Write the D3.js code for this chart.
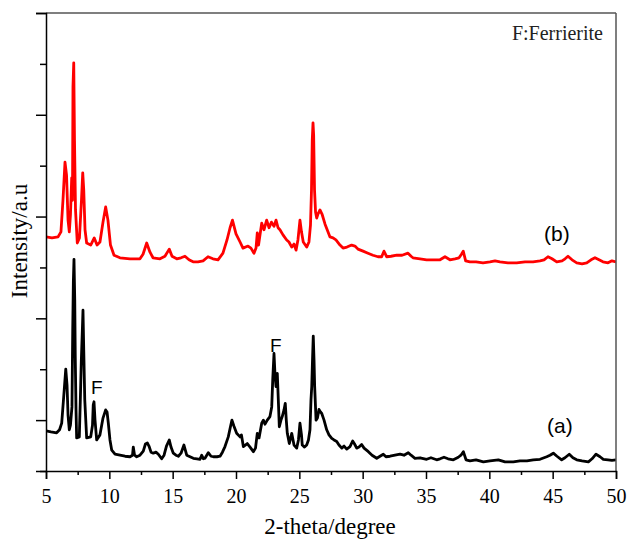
<!DOCTYPE html>
<html>
<head>
<meta charset="utf-8">
<script src="https://cdn.jsdelivr.net/npm/d3@7"></script>
<style>
  body { margin: 0; background: #fff; }
  svg { display: block; }
  .axis path, .axis line { stroke: #000; stroke-width: 1.5; }
  .axis text { font-family: "Liberation Serif", "Times New Roman", serif; font-size: 20px; fill: #000; }
</style>
</head>
<body>
<div id="chart"></div>
<script>
// x ticks (2-theta, degree)
const xTicks = [5, 10, 15, 20, 25, 30, 35, 40, 45, 50];
const xMinor = [7.5, 12.5, 17.5, 22.5, 27.5, 32.5, 37.5, 42.5, 47.5];
// y ticks (no labels in the figure)
const yMajor = [500, 1500, 2500, 3500, 4500];
const yMinor = [0, 1000, 2000, 3000, 4000];

// sample (b), red trace: [2theta, intensity]
const seriesB = [
  [5.00, 2300], [5.47, 2290], [5.95, 2300], [6.18, 2350], [6.34, 2660], [6.50, 3035],
  [6.62, 2910], [6.74, 2465], [6.84, 2350], [6.93, 2515], [7.03, 2880], [7.09, 2660],
  [7.13, 3775], [7.19, 4010], [7.25, 3250], [7.33, 2565], [7.47, 2240], [7.64, 2290],
  [7.80, 2660], [7.90, 2930], [7.98, 2760], [8.08, 2370], [8.21, 2240], [8.53, 2220],
  [8.81, 2290], [9.03, 2220], [9.26, 2250], [9.50, 2445], [9.71, 2595], [9.89, 2465],
  [10.09, 2220], [10.37, 2120], [10.84, 2095], [11.63, 2085], [12.42, 2085], [12.66, 2130],
  [12.95, 2240], [13.21, 2150], [13.45, 2095], [14.00, 2085], [14.39, 2110], [14.73, 2180],
  [14.95, 2110], [15.32, 2085], [15.66, 2095], [15.97, 2110], [16.29, 2075], [16.61, 2055],
  [17.00, 2055], [17.40, 2065], [17.79, 2105], [18.18, 2085], [18.58, 2075], [18.97, 2140],
  [19.29, 2270], [19.53, 2390], [19.72, 2465], [20.00, 2330], [20.32, 2250], [20.55, 2190],
  [20.95, 2210], [21.18, 2190], [21.42, 2140], [21.58, 2190], [21.68, 2340], [21.78, 2220],
  [22.03, 2435], [22.21, 2370], [22.42, 2465], [22.61, 2390], [22.80, 2445], [23.00, 2405],
  [23.16, 2465], [23.32, 2390], [23.47, 2370], [23.71, 2320], [24.00, 2270], [24.18, 2250],
  [24.40, 2200], [24.58, 2230], [24.74, 2170], [24.89, 2270], [25.05, 2465], [25.17, 2350],
  [25.31, 2250], [25.58, 2200], [25.76, 2250], [25.88, 2415], [25.96, 2760], [26.02, 3250],
  [26.08, 3420], [26.13, 3300], [26.20, 2760], [26.28, 2545], [26.37, 2485], [26.47, 2525],
  [26.63, 2565], [26.79, 2525], [27.03, 2425], [27.26, 2350], [27.42, 2300], [27.66, 2290],
  [27.89, 2270], [28.21, 2220], [28.45, 2190], [28.76, 2200], [29.13, 2220], [29.39, 2210],
  [29.63, 2180], [30.03, 2160], [30.42, 2140], [30.81, 2120], [31.21, 2105], [31.50, 2105],
  [31.68, 2160], [31.90, 2105], [32.24, 2110], [32.69, 2120], [33.11, 2120], [33.58, 2140],
  [33.82, 2110], [33.97, 2095], [34.53, 2085], [35.05, 2075], [35.55, 2075], [36.11, 2075],
  [36.50, 2105], [36.89, 2075], [37.29, 2085], [37.61, 2095], [37.80, 2130], [37.94, 2160],
  [38.13, 2065], [38.47, 2055], [38.95, 2055], [39.50, 2045], [40.05, 2055], [40.45, 2065],
  [40.84, 2055], [41.47, 2045], [42.16, 2045], [42.82, 2055], [43.45, 2055], [44.00, 2065],
  [44.32, 2075], [44.63, 2105], [44.95, 2085], [45.32, 2055], [45.74, 2065], [45.98, 2085],
  [46.21, 2110], [46.53, 2075], [46.90, 2045], [47.32, 2035], [47.69, 2045], [48.03, 2075],
  [48.34, 2095], [48.66, 2075], [48.97, 2055], [49.37, 2045], [49.68, 2065], [50.00, 2055]
];

// sample (a), black trace
const seriesA = [
  [5.00, 395], [5.39, 385], [5.84, 375], [6.07, 405], [6.24, 470], [6.38, 700],
  [6.56, 1000], [6.66, 845], [6.74, 550], [6.84, 405], [6.93, 450], [7.05, 630],
  [7.11, 1385], [7.16, 1860], [7.21, 2080], [7.27, 1680], [7.31, 1125], [7.37, 600],
  [7.42, 325], [7.63, 335], [7.71, 700], [7.79, 1090], [7.87, 1385], [7.92, 1580],
  [7.98, 1190], [8.06, 700], [8.21, 325], [8.53, 335], [8.67, 450], [8.73, 650],
  [8.79, 680], [8.87, 500], [9.00, 305], [9.26, 355], [9.50, 520], [9.71, 600],
  [9.82, 580], [9.92, 470], [10.05, 305], [10.19, 205], [10.45, 165], [10.84, 155],
  [11.24, 145], [11.63, 140], [11.83, 155], [11.89, 235], [11.99, 155], [12.16, 140],
  [12.42, 155], [12.68, 195], [12.85, 265], [13.00, 275], [13.13, 245], [13.29, 185],
  [13.47, 175], [13.68, 185], [13.87, 165], [14.13, 120], [14.32, 155], [14.51, 245],
  [14.73, 305], [14.87, 235], [15.05, 175], [15.26, 155], [15.45, 145], [15.66, 175],
  [15.89, 255], [16.11, 155], [16.37, 140], [16.63, 125], [16.92, 120], [17.16, 115],
  [17.29, 155], [17.43, 120], [17.55, 125], [17.81, 180], [18.03, 145], [18.21, 140],
  [18.50, 140], [18.74, 145], [18.93, 185], [19.13, 240], [19.39, 335], [19.57, 440],
  [19.68, 500], [19.84, 440], [20.05, 370], [20.32, 335], [20.43, 355], [20.58, 240],
  [20.89, 270], [21.11, 235], [21.37, 190], [21.54, 225], [21.68, 370], [21.82, 325],
  [22.03, 470], [22.16, 500], [22.29, 460], [22.47, 500], [22.68, 535], [22.82, 630],
  [22.90, 895], [23.00, 1155], [23.08, 945], [23.16, 830], [23.26, 960], [23.34, 700],
  [23.42, 435], [23.55, 500], [23.65, 535], [23.79, 600], [23.89, 665], [23.97, 500],
  [24.05, 370], [24.21, 270], [24.40, 370], [24.58, 255], [24.79, 225], [24.93, 305],
  [25.05, 470], [25.17, 355], [25.23, 255], [25.41, 235], [25.58, 255], [25.72, 305],
  [25.84, 405], [25.92, 700], [25.98, 830], [26.04, 1090], [26.10, 1325], [26.16, 1090],
  [26.21, 830], [26.32, 500], [26.43, 520], [26.55, 605], [26.67, 580], [26.77, 565],
  [26.95, 500], [27.16, 405], [27.34, 355], [27.56, 320], [27.74, 305], [27.95, 290],
  [28.13, 255], [28.35, 225], [28.53, 245], [28.74, 215], [29.00, 240], [29.21, 295],
  [29.36, 265], [29.53, 225], [29.71, 235], [29.92, 260], [30.11, 225], [30.45, 190],
  [30.74, 155], [31.11, 125], [31.37, 145], [31.63, 165], [31.84, 140], [32.16, 145],
  [32.55, 155], [32.95, 165], [33.26, 155], [33.60, 180], [33.82, 155], [34.13, 125],
  [34.53, 130], [35.05, 115], [35.39, 130], [35.84, 110], [36.11, 120], [36.42, 135],
  [36.74, 120], [37.16, 110], [37.55, 135], [37.76, 155], [37.95, 190], [38.16, 110],
  [38.47, 100], [38.95, 110], [39.53, 90], [40.05, 100], [40.71, 110], [41.24, 90],
  [41.89, 90], [42.42, 100], [42.97, 100], [43.47, 110], [44.00, 115], [44.53, 140],
  [44.79, 155], [45.05, 175], [45.34, 145], [45.71, 110], [45.97, 130], [46.31, 165],
  [46.60, 130], [46.90, 110], [47.32, 100], [47.82, 90], [48.11, 120], [48.42, 165],
  [48.74, 140], [49.00, 115], [49.37, 110], [49.68, 105], [50.00, 110]
];

const width = 627;
const height = 539;
const margin = { top: 13, right: 11, bottom: 68, left: 46 };
const plotW = width - margin.left - margin.right;
const plotH = height - margin.top - margin.bottom;

const svg = d3.select('#chart')
  .append('svg')
  .attr('width', width)
  .attr('height', height);

const xScale = d3.scaleLinear().domain([5, 50]).range([margin.left, margin.left + plotW]);
const yScale = d3.scaleLinear().domain([0, 4500]).range([margin.top + plotH, margin.top]);

svg.append('clipPath').attr('id', 'plot-clip')
  .append('rect')
  .attr('x', margin.left).attr('y', margin.top)
  .attr('width', plotW).attr('height', plotH);

const line = d3.line()
  .x((d) => xScale(d[0]))
  .y((d) => yScale(d[1]));

// traces
const traces = svg.append('g').attr('clip-path', 'url(#plot-clip)');
traces.append('path')
  .datum(seriesB)
  .attr('fill', 'none')
  .attr('stroke', '#ff0000')
  .attr('stroke-width', 2.8)
  .attr('stroke-linejoin', 'round')
  .attr('d', line);
traces.append('path')
  .datum(seriesA)
  .attr('fill', 'none')
  .attr('stroke', '#000')
  .attr('stroke-width', 2.8)
  .attr('stroke-linejoin', 'round')
  .attr('d', line);

// frame: top and right in dark grey
svg.append('line')
  .attr('x1', margin.left).attr('x2', margin.left + plotW)
  .attr('y1', margin.top).attr('y2', margin.top)
  .attr('stroke', '#555').attr('stroke-width', 1.5);
svg.append('line')
  .attr('x1', margin.left + plotW).attr('x2', margin.left + plotW)
  .attr('y1', margin.top).attr('y2', margin.top + plotH)
  .attr('stroke', '#555').attr('stroke-width', 1.5);

// x axis
svg.append('g')
  .attr('class', 'axis')
  .attr('transform', `translate(0, ${margin.top + plotH})`)
  .call(d3.axisBottom(xScale).tickValues(xTicks).tickSize(8).tickPadding(10).tickFormat(d3.format('d')));
svg.append('g')
  .attr('class', 'axis')
  .attr('transform', `translate(0, ${margin.top + plotH})`)
  .call(d3.axisBottom(xScale).tickValues(xMinor).tickSize(4).tickFormat(''))
  .select('.domain').remove();

// y axis
svg.append('g')
  .attr('class', 'axis')
  .attr('transform', `translate(${margin.left}, 0)`)
  .call(d3.axisLeft(yScale).tickValues(yMajor).tickSize(10).tickFormat(''));
svg.append('g')
  .attr('class', 'axis')
  .attr('transform', `translate(${margin.left}, 0)`)
  .call(d3.axisLeft(yScale).tickValues(yMinor).tickSize(6).tickFormat(''))
  .select('.domain').remove();

// axis titles
svg.append('text')
  .attr('x', 330).attr('y', 534)
  .attr('text-anchor', 'middle')
  .style('font-family', '"Liberation Serif", "Times New Roman", serif')
  .style('font-size', '23px')
  .text('2-theta/degree');

svg.append('text')
  .attr('transform', 'translate(27, 241) rotate(-90)')
  .attr('text-anchor', 'middle')
  .style('font-family', '"Liberation Serif", "Times New Roman", serif')
  .style('font-size', '23px')
  .text('Intensity/a.u');

// annotations
svg.append('text')
  .attr('x', 603).attr('y', 40)
  .attr('text-anchor', 'end')
  .style('font-family', '"Liberation Serif", "Times New Roman", serif')
  .style('font-size', '20px')
  .style('fill', '#222')
  .text('F:Ferrierite');

const sans = '"Liberation Sans", Arial, sans-serif';
svg.append('text').attr('x', 544).attr('y', 241)
  .style('font-family', sans).style('font-size', '21px').text('(b)');
svg.append('text').attr('x', 547).attr('y', 433)
  .style('font-family', sans).style('font-size', '21px').text('(a)');
svg.append('text').attr('x', 91).attr('y', 394)
  .style('font-family', sans).style('font-size', '19px').text('F');
svg.append('text').attr('x', 270).attr('y', 352)
  .style('font-family', sans).style('font-size', '19px').text('F');
</script>
</body>
</html>
